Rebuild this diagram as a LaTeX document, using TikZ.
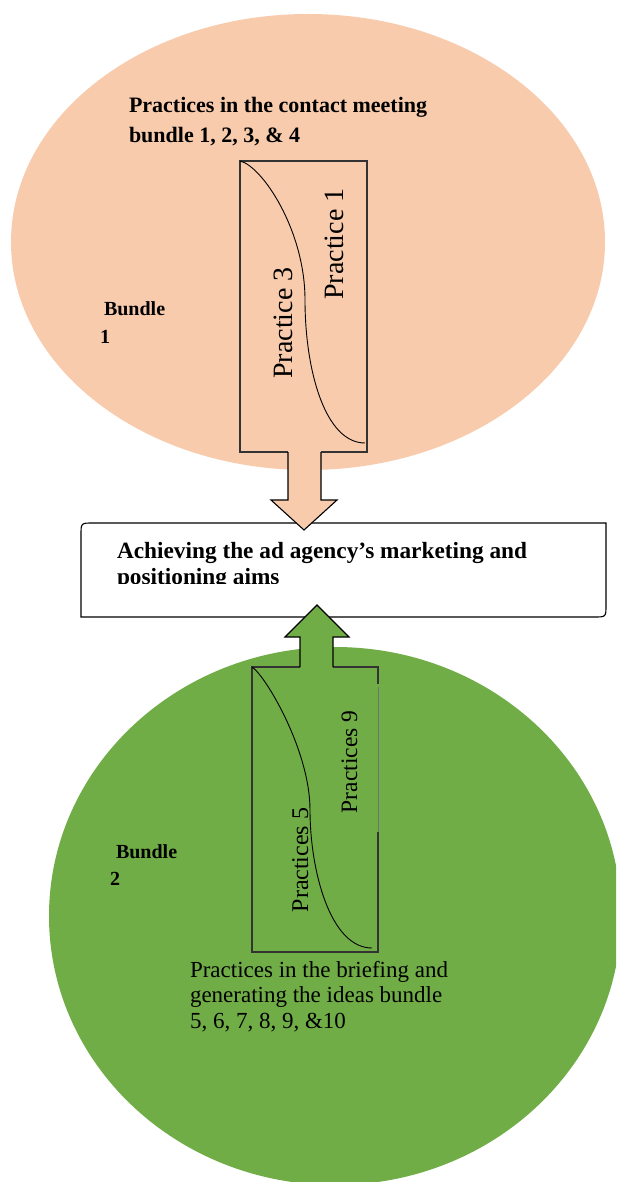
\documentclass[tikz,border=0pt]{standalone}
\usepackage{fontspec}
\setmainfont{Liberation Serif}
\usetikzlibrary{shapes.geometric,calc}
\definecolor{peach}{HTML}{F8CBAD}
\definecolor{leaf}{HTML}{70AD47}
\begin{document}
\begin{tikzpicture}[x=1pt,y=-1pt,
  blob/.style={ellipse, inner sep=0pt, outer sep=0pt},
  frame/.style={draw=black!80, line width=1.1pt},
  boxline/.style={draw=black, line width=1.1pt},
  curveline/.style={draw=black, line width=0.9pt},
  blockarrow/.style={draw=black, line width=1.1pt, line join=miter},
  lbl/.style={inner sep=0pt, outer sep=0pt, anchor=base west},
  vlbl/.style={inner sep=0pt, outer sep=0pt, anchor=base, rotate=90},
  hold/.style={inner sep=0pt, outer sep=0pt},
]
\useasboundingbox (0,0) rectangle (616,1182);
\fill[white] (0,0) rectangle (616,1182);
\begin{scope}
  \clip (0,0) rectangle (616,1182);
  \node[blob, fill=peach, minimum width=594pt, minimum height=456pt] (b1) at (308,242) {};
  \node[blob, fill=leaf, minimum width=572pt, minimum height=538pt] (b2) at (335,916) {};
\end{scope}

% bundle 1 frame and curve
\node[frame, hold, minimum width=127pt, minimum height=291pt] (r1) at (303.5,306.5) {};
\draw[curveline] (r1.north west) .. controls (262,166) and (305,230) .. (305,300)
  .. controls (305,370) and (325,443) .. (365,443);

% bundle 2 frame and curve
\node[hold, minimum width=126pt, minimum height=285pt] (r2) at (315,809.5) {};
\draw[frame] (378,684) -- (r2.north east) -- (r2.north west) -- (r2.south west) -- (r2.south east) -- (378,832);
\draw[black!55, line width=0.4pt] (378,687) -- (378,832);
\draw[curveline] (r2.north west) .. controls (265,675) and (310,750) .. (310,810)
  .. controls (310,870) and (330,948) .. (372,948);

% goal box
\node[hold, minimum width=525pt, minimum height=94pt] (goal) at (343.5,570) {};
\draw[boxline, fill=white] (81,617) -- (81,535) .. controls (81,523) .. (93,523) -- (606,523)
  -- (606,605) .. controls (606,617) .. (594,617) -- cycle;
\node[lbl, font=\bfseries\fontsize{23.3}{26}\selectfont] (g1) at (117,558) {Achieving the ad agency’s marketing and};
\begin{scope}
  \clip (goal.north west) rectangle (606,583);
  \node[lbl, font=\bfseries\fontsize{23.3}{26}\selectfont] (g2) at (117,584.5) {positioning aims};
\end{scope}

% block arrows
\fill[peach] (288,449) rectangle (321,455);
\draw[blockarrow, fill=peach] (288,452) -- (288,500) -- (271,500) -- (304,530) -- (337,500) -- (321,500) -- (321,452);
\fill[leaf] (300,664) rectangle (333,670);
\draw[blockarrow, fill=leaf] (300,667) -- (300,637) -- (285,637) -- (317,605) -- (349,637) -- (333,637) -- (333,667);

% bundle 1 texts
\node[lbl, font=\bfseries\fontsize{22}{26}\selectfont] (t1a) at (129,113) {Practices in the contact meeting};
\node[lbl, font=\bfseries\fontsize{22}{26}\selectfont] (t1b) at (129,143) {bundle 1, 2, 3, \& 4};
\node[lbl, font=\bfseries\fontsize{20}{24}\selectfont] (n1a) at (104,315) {Bundle};
\node[lbl, font=\bfseries\fontsize{20}{24}\selectfont] (n1b) at (100,343) {1};
\node[vlbl, font=\fontsize{28}{32}\selectfont] (p3) at (292,323) {Practice 3};
\node[vlbl, font=\fontsize{28}{32}\selectfont] (p1) at (343,244) {Practice 1};

% bundle 2 texts
\node[lbl, font=\bfseries\fontsize{20}{24}\selectfont] (n2a) at (116,858) {Bundle};
\node[lbl, font=\bfseries\fontsize{20}{24}\selectfont] (n2b) at (110,885) {2};
\node[vlbl, font=\fontsize{24}{28}\selectfont] (p5) at (308,860) {Practices 5};
\node[vlbl, font=\fontsize{23.5}{28}\selectfont] (p9) at (357,762) {Practices 9};
\node[lbl, font=\fontsize{23}{26}\selectfont] (t2a) at (190,977) {Practices in the briefing and};
\node[lbl, font=\fontsize{23}{26}\selectfont] (t2b) at (190,1002.5) {generating the ideas bundle};
\node[lbl, font=\fontsize{23}{26}\selectfont] (t2c) at (190,1028) {5, 6, 7, 8, 9, \&10};
\end{tikzpicture}
\end{document}
